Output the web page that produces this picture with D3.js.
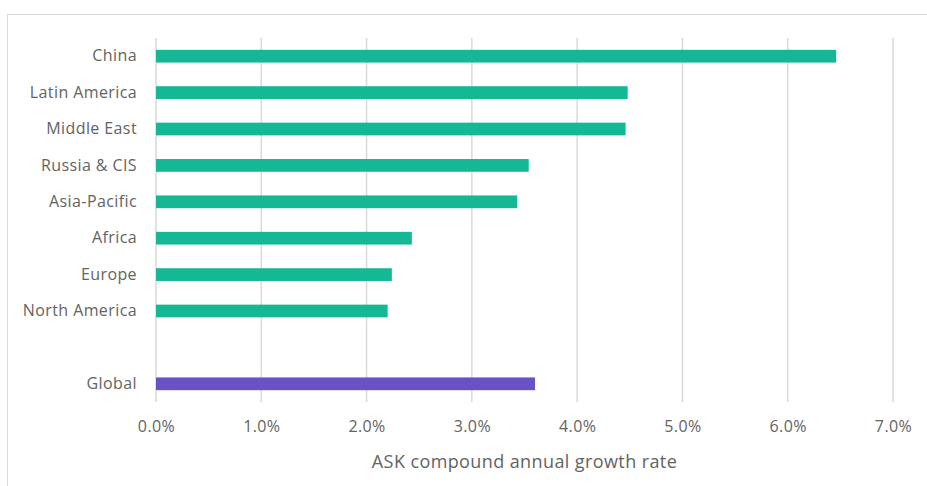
<!DOCTYPE html>
<html>
<head>
<meta charset="utf-8">
<script src="https://cdn.jsdelivr.net/npm/d3@7"></script>
<style>
  body { margin: 0; background: #fff; }
  svg { display: block; font-family: "Open Sans", Lato, sans-serif; }
</style>
</head>
<body>
<svg id="canvas"></svg>
<script>
let width = 927;
let height = 486;

// data
const regions = ['China', 'Latin America', 'Middle East', 'Russia & CIS', 'Asia-Pacific',
    'Africa', 'Europe', 'North America', '', 'Global'];
const growth = [6.46, 4.48, 4.46, 3.54, 3.43, 2.43, 2.24, 2.20, null, 3.60];
const xTicks = [0, 1, 2, 3, 4, 5, 6, 7];
const axisTitle = 'ASK compound annual growth rate';

let margin = { left: 156, right: 34, top: 38, bottom: 84 };
let textColor = '#636363';

let canvas = d3.select('#canvas').attr('width', width).attr('height', height);

// chart border (runs off the picture on right and bottom)
canvas.append('rect')
    .attr('x', 7.5).attr('y', 14.5)
    .attr('width', width).attr('height', height)
    .attr('fill', '#fff').attr('stroke', '#d9d9d9');

let xScale = d3.scaleLinear()
    .domain([0, 7])
    .range([margin.left, width - margin.right]);

let yScale = d3.scaleBand()
    .domain(regions.map((d, i) => i))
    .range([margin.top, height - margin.bottom])
    .paddingInner(0.65)
    .paddingOuter(0.325);

// gridlines
canvas.append('g')
    .selectAll('line')
    .data(xTicks)
    .enter()
    .append('line')
    .attr('x1', (d) => xScale(d))
    .attr('x2', (d) => xScale(d))
    .attr('y1', margin.top)
    .attr('y2', height - margin.bottom)
    .attr('stroke', '#d9d9d9')
    .attr('stroke-width', 1.5);

// bars
canvas.append('g')
    .selectAll('rect')
    .data(growth.map((v, i) => ({ v: v, i: i })).filter((d) => d.v !== null))
    .enter()
    .append('rect')
    .attr('x', xScale(0))
    .attr('y', (d) => yScale(d.i))
    .attr('width', (d) => xScale(d.v) - xScale(0))
    .attr('height', yScale.bandwidth())
    .attr('fill', (d) => (regions[d.i] === 'Global' ? '#6a52c6' : '#14b894'));

// x axis labels
let xAxis = d3.axisBottom(xScale)
    .tickValues(xTicks)
    .tickFormat((d) => d.toFixed(1) + '%')
    .tickSize(0)
    .tickPadding(19);

let gx = canvas.append('g')
    .attr('transform', `translate(0, ${height - margin.bottom})`)
    .call(xAxis);
gx.select('.domain').remove();
gx.selectAll('text')
    .attr('fill', textColor)
    .style('font-size', '16px')
    .style('letter-spacing', '0.4px')
    .style('font-family', '"Open Sans", sans-serif');

// y axis labels
let yAxis = d3.axisLeft(yScale)
    .tickFormat((i) => regions[i])
    .tickSize(0)
    .tickPadding(19);

let gy = canvas.append('g')
    .attr('transform', `translate(${margin.left}, 0)`)
    .call(yAxis);
gy.select('.domain').remove();
gy.selectAll('text')
    .attr('fill', textColor)
    .style('font-size', '16px')
    .style('letter-spacing', '0.4px')
    .style('font-family', '"Open Sans", sans-serif');

// axis title
canvas.append('text')
    .attr('x', (xScale(0) + xScale(7)) / 2)
    .attr('y', 468)
    .attr('text-anchor', 'middle')
    .attr('fill', textColor)
    .style('font-size', '18px')
    .style('letter-spacing', '0.4px')
    .text(axisTitle);
</script>
</body>
</html>
